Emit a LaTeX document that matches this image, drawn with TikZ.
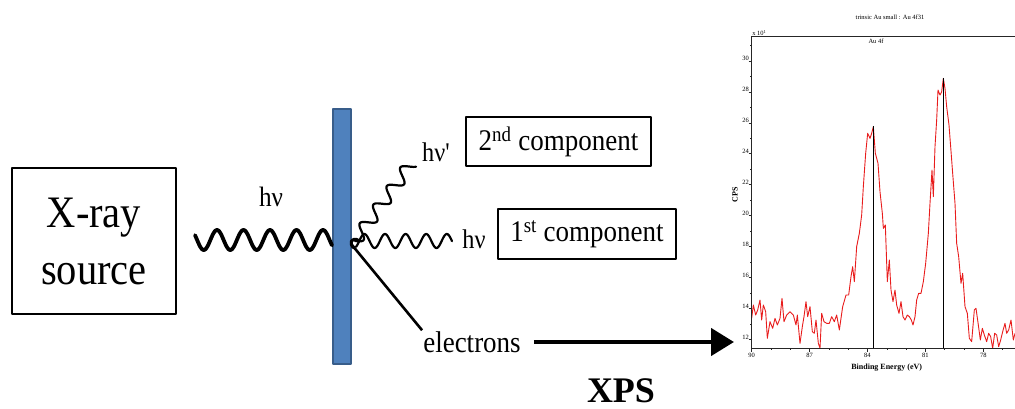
\documentclass[tikz,border=0pt]{standalone}
\usepackage{fontspec}
\setmainfont{Liberation Serif}
\newfontfamily\rawserif{Liberation Serif}
\usepackage{graphicx}
\usetikzlibrary{arrows.meta}
\definecolor{barblue}{RGB}{79,129,189}
\definecolor{barline}{RGB}{56,93,138}
\definecolor{specred}{RGB}{232,28,28}
\newcommand{\sqz}[1]{\scalebox{0.9}[1]{#1}}
\begin{document}
\begin{tikzpicture}[x=1pt,y=-1pt,line join=round,
  box/.style={draw,line width=2.4pt,inner sep=0pt},
  lbl/.style={inner sep=0pt,font=\fontsize{30}{36}\selectfont},
  thickwave/.style={line width=3.8pt,line cap=round},
  thinwave/.style={line width=2.2pt,line cap=round},
  axisline/.style={line width=0.5pt,draw=black!85},
  ticklbl/.style={font=\fontsize{6.5}{7}\selectfont,inner sep=0.5pt},
  peak/.style={line width=1.1pt}]
\useasboundingbox (0,0) rectangle (1015,409);

% X-ray source
\node[box,minimum width=164pt,minimum height=146pt,align=center,
      font=\fontsize{45}{57}\selectfont] (src) at (94,241) {\sqz{X-ray}\\\sqz{source}};

% sample bar
\node[draw=barline,fill=barblue,line width=2pt,minimum width=18pt,minimum height=255pt,inner sep=0pt] (bar) at (342,236.5) {};

% incoming photon
\draw[thickwave] plot[domain=195:332,samples=160,smooth] (\x,{240-10*cos(13.585*(\x-217))});
\node[lbl,font=\fontsize{28}{32}\selectfont] (hv0) at (271,197) {\sqz{hν}};

% impact point and outgoing
\coordinate (hit) at (352,245);
\begin{scope}[shift={(hit)}]
  \draw[thinwave] plot[domain=4:100,samples=120,smooth] (\x,{-4-7*cos(17.476*(\x-33))});
\end{scope}
\begin{scope}[shift={(hit)},rotate=54]
  \draw[thinwave] plot[domain=5:101,samples=120,smooth] (\x,{6.5*sin(15.652*(\x-5))});
\end{scope}
\draw[line width=3pt,line cap=round] (358,240) .. controls (352,237) and (348,243) .. (354,248);

\node[lbl,font=\fontsize{27}{32}\selectfont] (hv2) at (436,152) {\sqz{hν{\rawserif '}}};
\node[lbl,font=\fontsize{27}{32}\selectfont] (hv1) at (474,239) {\sqz{hν}};

\node[box,minimum width=185pt,minimum height=49pt] (c2) at (558.5,141.5) {\fontsize{30}{36}\selectfont\sqz{2\textsuperscript{nd} component}};
\node[box,minimum width=178pt,minimum height=50pt] (c1) at (587,234) {\fontsize{30}{36}\selectfont\sqz{1\textsuperscript{st} component}};

% electrons
\node[lbl,inner sep=1pt] (el) at (472,342) {\sqz{electrons}};
\draw[line width=2.6pt] (hit) -- (el.north west);
\coordinate (arrtip) at (734,342);
\draw[line width=4.5pt,-{Triangle[length=23pt,width=27pt]}] ([xshift=12pt]el.east) -- (el.east -| arrtip);

\node[font=\bfseries\fontsize{36}{40}\selectfont,inner sep=0pt] (xps) at (621,391) {XPS};

% spectrum
\begin{scope}[shift={(720,0)},scale=1/3]
  \node[font=\fontsize{6.5}{7}\selectfont,inner sep=0pt] (title) at (510,52) {trinsic Au small : Au 4f31};
  \node[font=\fontsize{6.5}{7}\selectfont,anchor=south west,inner sep=0.5pt] (mult) at (95,110) {x 10\textsuperscript{1}};
  \node[font=\fontsize{6.5}{7}\selectfont,inner sep=0pt] (au) at (468,124) {Au 4f};
  \node[font=\bfseries\fontsize{8}{9}\selectfont,rotate=90,inner sep=0pt] (cps) at (45,585) {CPS};
  \node[font=\bfseries\fontsize{8}{9}\selectfont,inner sep=0pt] (be) at (500,1103) {Binding Energy (eV)};
  \foreach \v in {12,14,...,30} {
    \draw[axisline] (86,{1018-(\v-12)*46.4}) -- (95,{1018-(\v-12)*46.4});
    \node[ticklbl,anchor=south east] at (89,{1020-(\v-12)*46.4}) {\v};
  }
  \foreach \v in {13,15,...,31} {
    \draw[axisline] (90,{1018-(\v-12)*46.4}) -- (95,{1018-(\v-12)*46.4});
  }
  \foreach \e in {90,87,84,81,78} {
    \draw[axisline] ({95+(90-\e)*57.9},1045) -- ({95+(90-\e)*57.9},1056);
    \node[ticklbl,anchor=north] at ({95+(90-\e)*57.9},1058) {\e};
  }
  \foreach \e in {89,88,86,85,83,82,80,79,77} {
    \draw[axisline] ({95+(90-\e)*57.9},1045) -- ({95+(90-\e)*57.9},1051);
  }
  \begin{scope}
  \clip (95,100) rectangle (885,1046);
  \draw[specred,line width=0.9pt] plot coordinates {
   (95,955) (100,915) (107,945) (113,930) (120,900) (125,960) (130,915) (137,935) (142,1015)
   (150,965) (158,985) (165,955) (172,975) (180,955) (186,895) (192,965) (200,945) (210,935)
   (220,945) (228,975) (232,945) (240,1030) (247,980) (252,950) (258,905) (263,950) (270,920)
   (277,995) (283,1000) (288,960) (295,1030) (300,1045) (305,940) (312,965) (320,970) (328,970)
   (335,950) (343,965) (350,945) (358,990) (368,920) (378,885) (386,885) (393,830) (398,800)
   (403,845) (410,740) (418,700) (425,645) (430,560) (437,460) (443,400) (450,415) (455,400)
   (460,380) (466,460) (474,490) (480,575) (487,640) (490,685) (496,675) (502,845) (508,780)
   (513,870) (519,905) (525,870) (530,915) (537,940) (543,905) (549,950) (555,960) (562,945)
   (568,950) (574,960) (579,975) (585,950) (590,900) (596,880) (603,880) (610,845) (617,790)
   (625,700) (630,610) (636,510) (640,590) (645,440) (650,360) (654,270) (660,285) (665,275)
   (670,235) (675,265) (680,320) (687,375) (692,440) (698,520) (705,610) (710,730) (716,770)
   (723,850) (728,820) (735,920) (742,940) (748,1015) (755,1025) (763,930) (768,925) (775,975)
   (781,1020) (787,985) (793,1005) (800,1025) (806,1000) (812,1010) (818,1045) (824,1000)
   (830,1005) (836,1040) (842,1020) (848,995) (855,970) (860,1000) (866,990) (873,960)
   (880,1020) (885,1000)};
  \end{scope}
  \draw[peak] (460,378) -- (460,1045);
  \draw[peak] (670,235) -- (670,1045);
  \draw[axisline] (885,108) -- (95,108) -- (95,1045) -- (885,1045);
\end{scope}
\end{tikzpicture}
\end{document}
